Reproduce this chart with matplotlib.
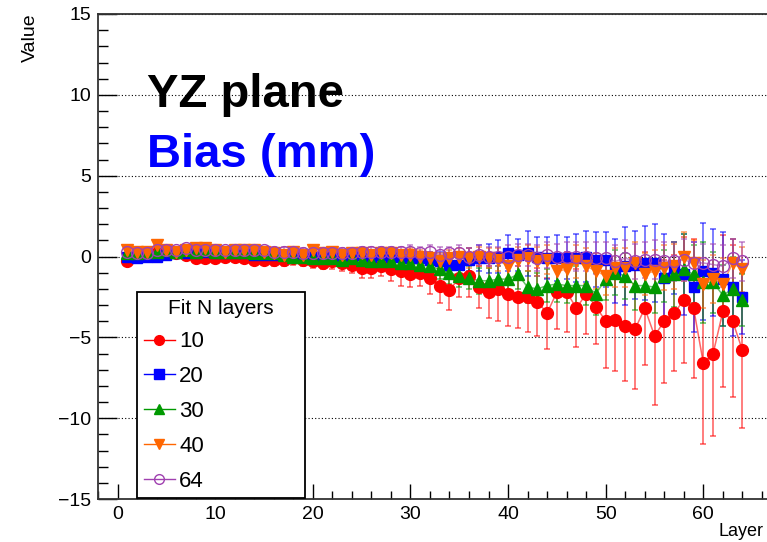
import matplotlib
matplotlib.use("Agg")
import matplotlib.pyplot as plt
from matplotlib.ticker import MultipleLocator
import numpy as np

plt.rcParams['font.family'] = ['Liberation Sans', 'DejaVu Sans']

layers = np.arange(1, 65)

# fit with N = 10 layers
bias_10 = [-0.3, 0.1, 0.1, 0.2, 0.2, 0.2, 0.1, -0.1, -0.1, -0.1, 0.0, 0.0, -0.1, -0.2, -0.2,
           -0.2, -0.2, -0.1, -0.2, -0.3, -0.4, -0.3, -0.4, -0.5, -0.7, -0.7, -0.6,
           -0.8, -0.9, -1.1, -1.0, -1.3, -1.8, -2.1, -1.3, -1.2, -1.9, -2.2, -2.0, -2.3, -2.5,
           -2.5, -2.8, -3.5, -2.2, -2.2, -3.2, -2.3, -3.1, -4.0, -3.9, -4.3, -4.5, -3.2, -4.9,
           -4.0, -3.5, -2.7, -3.2, -6.6, -6.0, -3.4, -4.0, -5.8]
err_10 = [0.3, 0.3, 0.3, 0.3, 0.3, 0.3, 0.3, 0.3, 0.3, 0.3, 0.3, 0.3, 0.3, 0.3, 0.3,
          0.4, 0.4, 0.4, 0.4, 0.4, 0.4, 0.5, 0.5, 0.5, 0.6, 0.6, 0.6,
          0.7, 0.9, 0.8, 0.8, 1.0, 1.1, 1.2, 1.2, 1.3, 1.3, 1.6, 2.0, 2.0, 1.9,
          2.2, 2.1, 2.2, 2.3, 2.5, 2.4, 2.5, 2.3, 2.9, 3.2, 3.4, 3.7, 3.5, 4.3,
          3.8, 3.6, 3.9, 4.3, 5.0, 5.1, 4.7, 4.7, 4.8]

# N = 20
bias_20 = [0.0, -0.1, 0.0, 0.0, 0.1, 0.2, 0.2, 0.2, 0.3, 0.2, 0.2, 0.2, 0.2, 0.1, 0.1,
           0.1, 0.1, 0.0, 0.1, 0.0, 0.0, 0.0, 0.0, 0.0, 0.1, 0.0, 0.1, 0.0, 0.0, -0.1,
           -0.1, -0.2, -0.3, -0.5, -0.5, -0.2, -0.1, -0.1, 0.0, 0.2,
           0.1, 0.2, 0.0, -0.1, -0.1, -0.1, -0.1, 0.0, -0.2, -0.2, -0.9, -0.6, -0.5, -0.4,
           -0.4, -1.3, -0.7, -1.1, -1.9, -0.9, -1.0, -1.4, -1.9, -2.5]
err_20 = [0.2, 0.2, 0.2, 0.2, 0.2, 0.2, 0.2, 0.2, 0.2, 0.2, 0.2, 0.2, 0.2, 0.2, 0.2,
          0.3, 0.3, 0.3, 0.3, 0.3, 0.3, 0.3, 0.3, 0.3, 0.3, 0.3, 0.3, 0.3, 0.3, 0.3,
          0.4, 0.5, 0.6, 0.6, 0.7, 0.7, 0.8, 0.9, 1.0, 1.1,
          1.0, 1.4, 1.2, 1.3, 1.4, 1.3, 1.5, 1.6, 1.7, 1.7, 2.0, 2.4, 2.1, 2.3,
          2.4, 2.7, 1.6, 2.5, 2.8, 3.0, 2.7, 2.9, 3.0, 2.3]

# N = 30
bias_30 = [0.2, 0.2, 0.3, 0.3, 0.4, 0.3, 0.4, 0.3, 0.4, 0.3, 0.3, 0.3, 0.3, 0.2, 0.2,
           0.2, 0.1, 0.0, 0.0, -0.1, -0.1, -0.1, -0.2, -0.1, -0.2, -0.3, -0.3,
           -0.3, -0.4, -0.4, -0.5, -0.6, -0.8, -1.0, -1.2, -1.3, -1.5, -1.5, -1.4, -1.4, -1.1,
           -1.9, -2.0, -1.8, -1.7, -1.8, -1.8, -1.8, -2.3, -1.4, -1.0, -1.2, -1.8, -1.8, -1.9,
           -1.2, -1.1, -0.8, -1.1, -1.6, -1.6, -2.4, -2.0, -2.7]
err_30 = [0.3, 0.3, 0.3, 0.3, 0.3, 0.3, 0.3, 0.3, 0.3, 0.3, 0.3, 0.3, 0.3, 0.3, 0.3,
          0.3, 0.3, 0.3, 0.3, 0.3, 0.4, 0.4, 0.4, 0.4, 0.4, 0.4, 0.4,
          0.5, 0.5, 0.5, 0.6, 0.6, 0.6, 0.7, 0.7, 0.7, 0.8, 0.8, 0.8, 0.9, 0.9,
          1.0, 1.0, 1.0, 1.1, 1.1, 1.2, 1.2, 1.3, 1.3, 1.4, 1.4, 1.5, 1.5, 1.6,
          1.6, 2.0, 2.2, 1.8, 2.5, 1.9, 1.9, 2.0, 1.6]

# N = 40
bias_40 = [0.4, 0.3, 0.3, 0.7, 0.4, 0.3, 0.4, 0.5, 0.5, 0.4, 0.3, 0.4, 0.4, 0.4, 0.3,
           0.2, 0.1, 0.3, 0.1, 0.4, 0.2, 0.3, 0.1, 0.2, 0.2, 0.1, 0.2, 0.2, 0.1, 0.1,
           0.0, -0.1, -0.3, -0.1, 0.0, -0.1, 0.0, -0.1, -0.2, -0.6,
           -0.2, -0.1, -0.3, -0.2, -0.9, -0.8, -0.3, -0.6, -0.9, -1.2, -0.7, -0.7, -0.4, -1.1,
           -0.9, -0.7, -0.6, 0.0, -0.4, -1.7, -1.4, -1.7, -0.4, -0.8]
err_40 = [0.3, 0.3, 0.3, 0.3, 0.3, 0.3, 0.3, 0.3, 0.3, 0.3, 0.3, 0.3, 0.3, 0.3, 0.3,
          0.3, 0.3, 0.3, 0.3, 0.3, 0.3, 0.3, 0.3, 0.3, 0.3, 0.3, 0.3, 0.3, 0.3, 0.4,
          0.4, 0.4, 0.5, 0.5, 0.5, 0.6, 0.6, 0.6, 0.7, 0.7,
          0.8, 0.8, 0.9, 0.9, 1.0, 1.0, 1.0, 1.1, 1.1, 1.2, 1.2, 1.2, 1.3, 1.3,
          1.3, 1.4, 1.4, 1.5, 1.4, 1.5, 1.5, 1.6, 1.5, 1.4]

# N = 64
bias_64 = [0.3, 0.2, 0.2, 0.4, 0.4, 0.4, 0.5, 0.4, 0.4, 0.4, 0.4, 0.4, 0.4, 0.4, 0.4,
           0.3, 0.3, 0.3, 0.2, 0.2, 0.2, 0.2, 0.2, 0.2, 0.3, 0.3, 0.3, 0.3, 0.3, 0.3,
           0.2, 0.3, 0.1, 0.2, 0.2, 0.0, 0.1, 0.0, 0.0, 0.0,
           0.1, 0.1, -0.1, 0.1, 0.0, 0.0, 0.0, 0.0, -0.1, -0.1, -0.3, -0.1, -0.3, -0.2,
           -0.2, -0.3, -0.3, -0.2, -0.4, -0.4, -0.5, -0.6, -0.1, -0.3]
err_64 = [0.2, 0.2, 0.2, 0.2, 0.2, 0.2, 0.2, 0.2, 0.2, 0.2, 0.2, 0.2, 0.2, 0.2, 0.2,
          0.3, 0.3, 0.3, 0.3, 0.3, 0.3, 0.3, 0.3, 0.3, 0.3, 0.3, 0.3, 0.3, 0.3, 0.4,
          0.4, 0.4, 0.5, 0.4, 0.5, 0.5, 0.6, 0.6, 0.6, 0.7,
          0.7, 0.7, 0.8, 0.8, 0.8, 0.9, 0.9, 0.9, 1.0, 1.0, 1.0, 1.1, 1.1, 1.1,
          1.2, 1.2, 1.2, 1.3, 1.3, 1.2, 1.3, 1.3, 1.2, 1.2]

labels = ['10', '20', '30', '40', '64']
series = [bias_10, bias_20, bias_30, bias_40, bias_64]
errors = [err_10, err_20, err_30, err_40, err_64]
colors = ['#ff0000', '#0000ff', '#009900', '#ff6600', '#a040b0']
markers = ['o', 's', '^', 'v', 'o']
msizes = [8.5, 7.5, 8, 8, 8.5]
xticks = [0, 10, 20, 30, 40, 50, 60]

fig = plt.figure(figsize=(7.67, 5.42), dpi=100)
W, H = 767., 542.
ax = fig.add_axes([98 / W, 43 / H, 703 / W, 485 / H])

handles = []
for y, e, c, m, ms, lab in zip(series, errors, colors, markers, msizes, labels):
    ax.errorbar(layers, y, yerr=e, fmt='none', ecolor=c, elinewidth=1.3,
                capsize=2, capthick=1.3, alpha=0.55, zorder=2)
    ax.plot(layers, y, '-', color=c, lw=1.1, alpha=0.6, zorder=3)
    face = 'none' if lab == '64' else c
    ax.plot(layers, y, ls='none', marker=m, ms=ms, color=c, mfc=face,
            mec=c, mew=1.0, zorder=4)
    h, = ax.plot([], [], '-', color=c, lw=1.0, marker=m, ms=7, mfc=face, mec=c)
    handles.append(h)

ax.set_xlim(-2, 70)
ax.set_ylim(-15, 15)
ax.set_xticks(xticks)
ax.xaxis.set_minor_locator(MultipleLocator(2))
ax.yaxis.set_major_locator(MultipleLocator(5))
ax.yaxis.set_minor_locator(MultipleLocator(1))
ax.tick_params(which='both', direction='in', labelsize=14, colors='black')
ax.tick_params(axis='y', which='major', length=14, width=1, pad=5)
ax.tick_params(axis='y', which='minor', length=7, width=1)
ax.tick_params(axis='x', which='major', length=11, width=1, pad=5)
ax.tick_params(axis='x', which='minor', length=5.5, width=1)
ax.grid(axis='y', which='major', ls=(0, (1, 2)), color='black', lw=0.8)
ax.set_axisbelow(True)
for s in ax.spines.values():
    s.set_linewidth(1.3)
    s.set_color('#333333')

fig.text(30 / W, 1 - 13 / H, 'Value', rotation=90, ha='center', va='top', fontsize=14)
fig.text(719 / W, 1 - 536 / H, 'Layer', ha='left', va='baseline', fontsize=13)

ax.text((147 - 98) / 703., 1 - (107 - 14) / 485., 'YZ plane', transform=ax.transAxes,
        fontsize=34, fontweight='bold', color='black', va='baseline', ha='left')
ax.text((147 - 98) / 703., 1 - (167 - 14) / 485., 'Bias (mm)', transform=ax.transAxes,
        fontsize=34, fontweight='bold', color='#0000ff', va='baseline', ha='left')

leg = fig.legend(handles, labels, title='Fit N layers', loc='upper left',
                 bbox_to_anchor=(137 / W, 1 - 292 / H - 0.01, 168 / W, 0.01), mode='expand',
                 bbox_transform=fig.transFigure, borderaxespad=0, fontsize=16,
                 title_fontsize=15, frameon=True, fancybox=False, handlelength=1.4,
                 handletextpad=0.2, labelspacing=0.62, borderpad=0.3)
leg.get_frame().set_edgecolor('black')
leg.get_frame().set_linewidth(1.3)
leg.get_frame().set_alpha(1)

fig.savefig('out.png', dpi=100)
